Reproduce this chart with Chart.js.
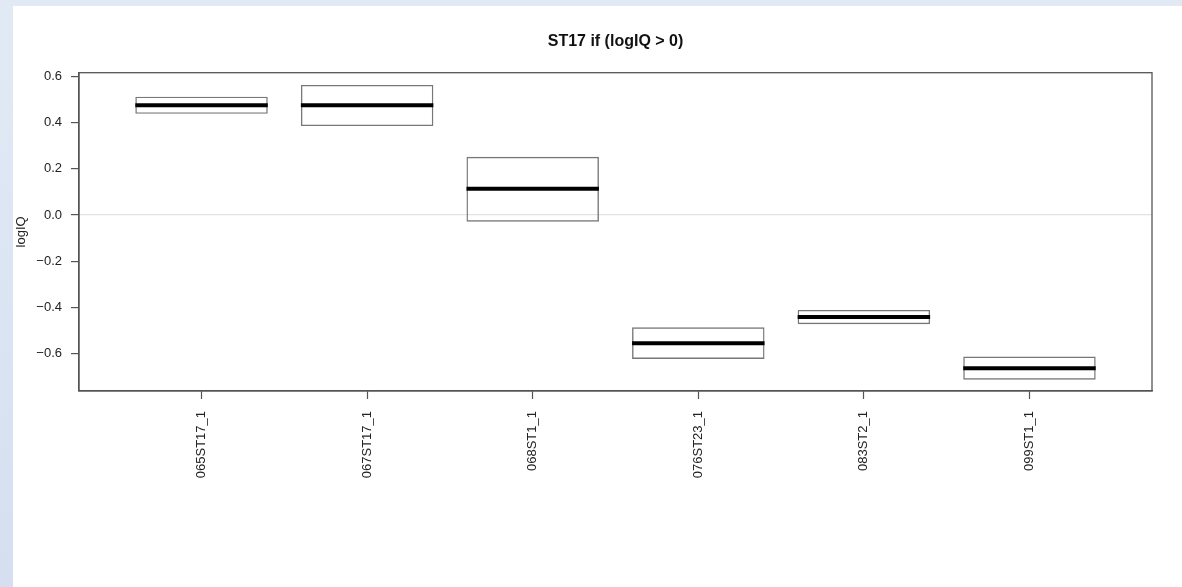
<!DOCTYPE html>
<html>
<head>
<meta charset="utf-8">
<script src="https://cdn.jsdelivr.net/npm/chart.js@4/dist/chart.umd.min.js"></script>
<style>
  html, body { margin: 0; padding: 0; }
  body {
    width: 1182px;
    height: 587px;
    overflow: hidden;
    background: linear-gradient(to bottom, #e1eaf4, #d6dff0);
    position: relative;
  }
  #panel {
    position: absolute;
    left: 13px;
    top: 6px;
    width: 1169px;
    height: 581px;
    background: #ffffff;
  }
</style>
</head>
<body>
<div id="panel"><canvas id="boxChart" width="1169" height="581"></canvas></div>
<script>
// Data
const categories = ["065ST17_1", "067ST17_1", "068ST1_1", "076ST23_1", "083ST2_1", "099ST1_1"];
const lowerQuartile = [0.438, 0.385, -0.029, -0.623, -0.473, -0.713];
const medians = [0.475, 0.475, 0.114, -0.555, -0.442, -0.664];
const upperQuartile = [0.512, 0.563, 0.252, -0.486, -0.411, -0.613];
const yTicks = [-0.6, -0.4, -0.2, 0.0, 0.2, 0.4, 0.6];

const FONT = "'Liberation Sans', Arial, sans-serif";

// Median line + full frame round the plot area
const boxExtras = {
  id: "boxExtras",
  afterDatasetsDraw(chart) {
    const { ctx, chartArea, scales } = chart;
    const meta = chart.getDatasetMeta(0);
    ctx.save();
    ctx.strokeStyle = "#000000";
    ctx.lineWidth = 4;
    meta.data.forEach((bar, i) => {
      const y = scales.y.getPixelForValue(medians[i]);
      ctx.beginPath();
      ctx.moveTo(bar.x - bar.width / 2, y);
      ctx.lineTo(bar.x + bar.width / 2, y);
      ctx.stroke();
    });
    ctx.strokeStyle = "#555555";
    ctx.lineWidth = 1.3;
    ctx.strokeRect(chartArea.left, chartArea.top, chartArea.right - chartArea.left, chartArea.bottom - chartArea.top);
    ctx.restore();
  },
};

const ctx = document.getElementById("boxChart").getContext("2d");
new Chart(ctx, {
  type: "bar",
  data: {
    datasets: [
      {
        data: categories.map((c, i) => ({ x: i + 1, y: [lowerQuartile[i], upperQuartile[i]] })),
        backgroundColor: "rgba(255,255,255,0)",
        borderColor: "#777777",
        borderWidth: 1.4,
        borderSkipped: false,
        barPercentage: 0.8,
        categoryPercentage: 1.0,
      },
    ],
  },
  options: {
    responsive: false,
    animation: false,
    devicePixelRatio: 1,
    layout: { padding: { left: 0, right: 30, top: 0, bottom: 0 } },
    plugins: {
      legend: { display: false },
      tooltip: { enabled: false },
      title: {
        display: true,
        fullSize: false,
        text: "ST17 if (logIQ > 0)",
        color: "#111111",
        font: { family: FONT, size: 16, weight: "bold" },
        padding: { top: 25.5, bottom: 22 },
      },
    },
    scales: {
      x: {
        type: "linear",
        min: 0.26,
        max: 6.74,
        offset: false,
        afterBuildTicks: (scale) => {
          scale.ticks = categories.map((c, i) => ({ value: i + 1 }));
        },
        afterFit: (scale) => {
          scale.height = 196;
        },
        ticks: {
          autoSkip: false,
          maxRotation: 90,
          minRotation: 90,
          padding: 12,
          color: "#222222",
          font: { family: FONT, size: 13 },
          callback: (value) => categories[Math.round(value) - 1] || "",
        },
        grid: {
          offset: false,
          drawOnChartArea: false,
          tickLength: 8,
          tickColor: "#555555",
          tickWidth: 1.2,
        },
        border: { display: true, color: "#555555", width: 1.3 },
      },
      y: {
        min: -0.762,
        max: 0.616,
        afterBuildTicks: (scale) => {
          scale.ticks = yTicks.map((v) => ({ value: v }));
        },
        afterFit: (scale) => {
          scale.width = 66;
        },
        ticks: {
          padding: 9,
          color: "#222222",
          font: { family: FONT, size: 13 },
          callback: (value) => value.toFixed(1).replace("-", "\u2212"),
        },
        grid: {
          drawOnChartArea: true,
          color: (c) => (c.tick && Math.abs(c.tick.value) < 1e-9 ? "#e2e2e2" : "rgba(0,0,0,0)"),
          lineWidth: 1.2,
          tickLength: 8,
          tickColor: "#555555",
          tickWidth: 1.2,
        },
        border: { display: true, color: "#555555", width: 1.3 },
        title: {
          display: true,
          text: "logIQ",
          color: "#222222",
          font: { family: FONT, size: 13 },
          padding: { top: 1, bottom: 0 },
        },
      },
    },
  },
  plugins: [boxExtras],
});
</script>
</body>
</html>
